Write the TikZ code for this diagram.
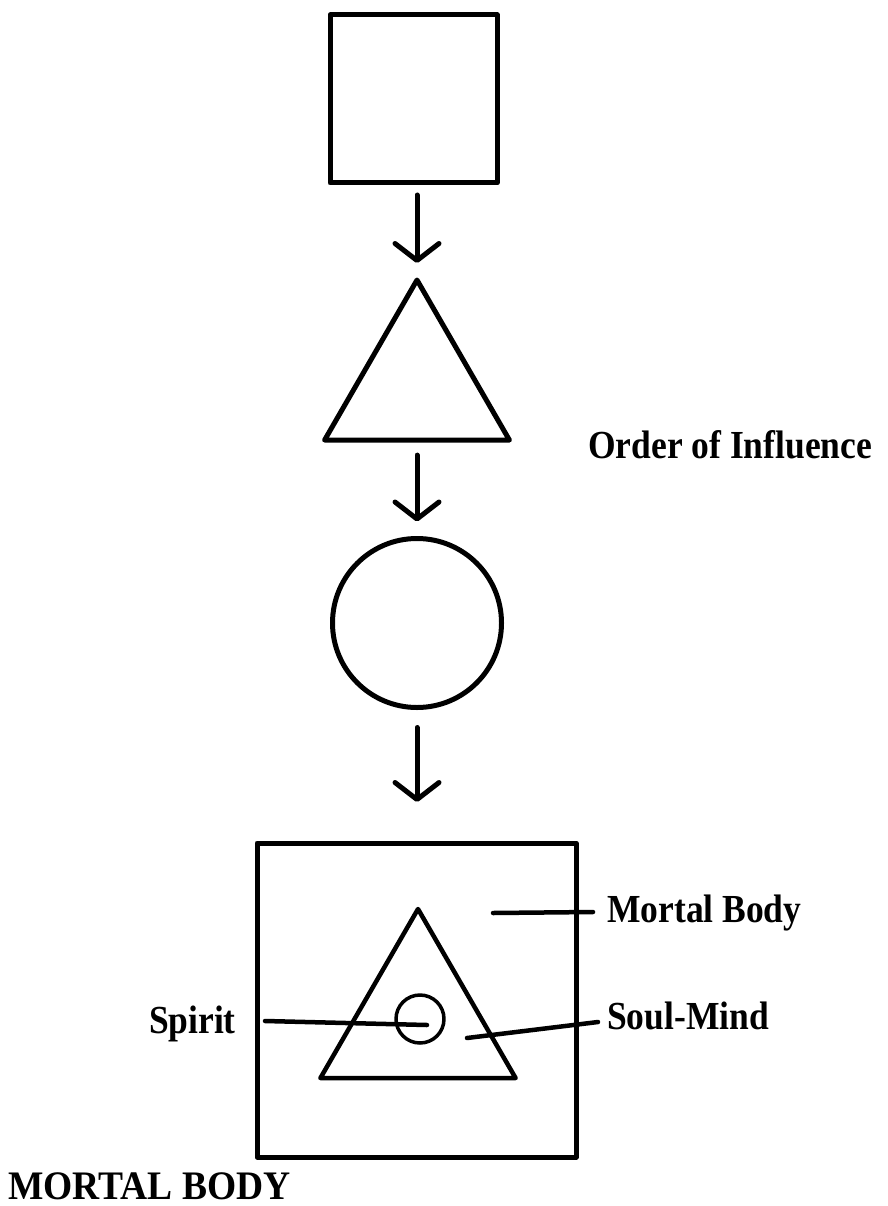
\documentclass[tikz,border=0pt]{standalone}
\usepackage{fontspec}
\setmainfont{Liberation Serif}
\usetikzlibrary{arrows.meta,shapes.geometric}
\begin{document}
\begin{tikzpicture}[x=1pt,y=-1pt,
  shapeline/.style={draw=black,line width=5pt,line join=round,inner sep=0pt,outer sep=0pt},
  flowarrow/.style={line width=5pt,line cap=round,-{Straight Barb[length=17pt,width=44pt,line width=5pt,line cap=round,line join=round]}},
  labelline/.style={line width=4.5pt,line cap=round},
  lbl/.style={font=\bfseries\fontsize{35.5}{40}\selectfont,inner sep=0pt,yscale=1.12},
  title/.style={font=\bfseries\fontsize{37.5}{42}\selectfont,inner sep=0pt,yscale=1.08}]
\useasboundingbox (0,0) rectangle (887,1206);
% top square
\node[shapeline,rectangle,minimum width=167pt,minimum height=168pt] (sq) at (413.5,99) {};
% triangle
\node[shapeline,regular polygon,regular polygon sides=3,minimum size=213.4pt] (tri) at (417,386.7) {};
% circle
\node[shapeline,circle,minimum size=169pt] (circ) at (417,623) {};
% big box
\node[shapeline,rectangle,minimum width=319pt,minimum height=314pt] (box) at (416.5,1000) {};
% inner triangle
\node[shapeline,regular polygon,regular polygon sides=3,minimum size=225.4pt,line width=4.5pt] (itri) at (418,1021.7) {};
% small circle
\node[shapeline,circle,minimum size=48pt,line width=3.5pt] (sc) at (420,1019) {};
% arrows
\draw[flowarrow,shorten <=12pt,shorten >=17pt] (sq.south -| tri.corner 1) -- (tri.corner 1);
\draw[flowarrow,shorten <=15pt,shorten >=17pt] (tri.south) -- (circ.north);
\draw[flowarrow,shorten <=20pt,shorten >=41pt] (circ.south) -- (circ.south |- box.north);
% labels
\node[lbl,anchor=base west] (order) at (588,458) {Order of Influence};
\node[lbl,anchor=base west] (mb) at (607,922) {Mortal Body};
\node[lbl,anchor=base west] (sm) at (607,1029) {Soul-Mind};
\node[lbl,anchor=base east] (sp) at (236,1033) {Spirit};
\node[title,anchor=base west] (ttl) at (8,1199) {MORTAL BODY};
% label lines
\coordinate (mbA) at (493,913);
\coordinate (mbB) at (593,912);
\coordinate (smA) at (467,1038);
\coordinate (smB) at (598,1022);
\coordinate (spA) at (265,1021);
\coordinate (spB) at (427,1025);
\draw[labelline] (mbA) -- (mbB);
\draw[labelline] (smA) -- (smB);
\draw[labelline] (spA) -- (spB);
\end{tikzpicture}
\end{document}
